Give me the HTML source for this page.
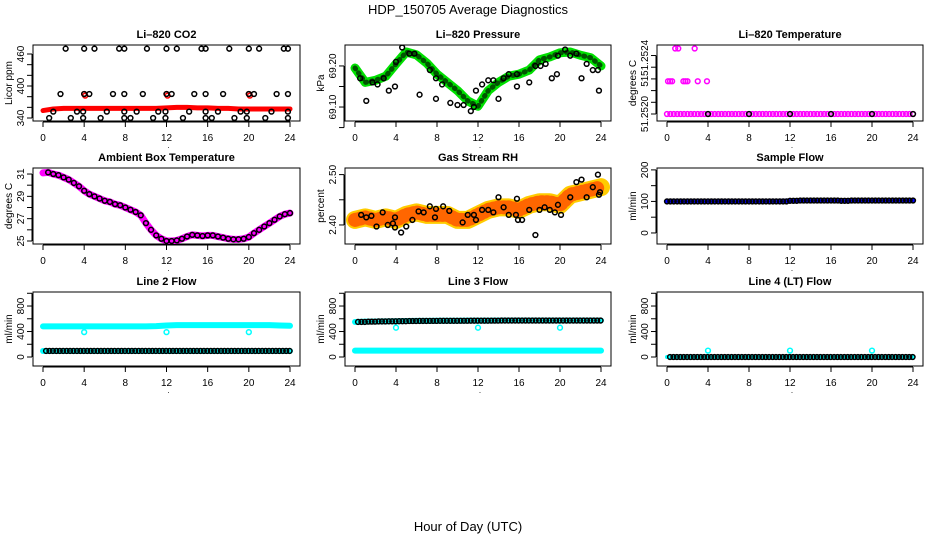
<!DOCTYPE html>
<html><head><meta charset="utf-8"><style>
body{margin:0;background:#fff}
svg{display:block;font-family:"Liberation Sans",sans-serif}
</style></head><body>
<svg id="c" width="936" height="540" viewBox="0 0 936 540" xmlns="http://www.w3.org/2000/svg">
<text x="468" y="14" text-anchor="middle" font-size="13">HDP_150705  Average Diagnostics</text>
<text x="468" y="531" text-anchor="middle" font-size="13">Hour of Day (UTC)</text>
</svg>
<script>
const HOURS=[0,1,2,3,4,5,6,7,8,9,10,11,12,13,14,15,16,17,18,19,20,21,22,23,24];
const XTICKS=[0,4,8,12,16,20,24];
// CO2
const CO2_BAND=[354,357,358,358,358,358,358,358,358,358,358,358,359,360,360,359,359,358,358,357,357,357,357,357,357];
const CO2_CX=[2.2,4,5,7.4,7.9,10.1,12,13,15.4,15.8,18.1,20,21,23.4,23.8, 1.7,4,4.5,6.8,7.9,9.7,12,12.5,14.7,15.8,17.5,20,20.5,22.7,23.8, 1,3.3,3.9,6.2,7.9,9.1,11.2,11.9,14.2,15.8,17,19.2,19.8,22.2,23.8, 0.6,2.7,3.9,5.6,7.9,8.5,10.7,11.9,13.6,15.8,16.4,18.6,19.8,21.6,23.8];
const CO2_CY=[470,470,470,470,470,470,470,470,470,470,470,470,470,470,470, 385,385,385,385,385,385,385,385,385,385,385,385,385,385,385, 352,352,352,352,352,352,352,352,352,352,352,352,352,352,352, 340,340,340,340,340,340,340,340,340,340,340,340,340,340,340];
const CO2_RX=[4,4.1,12,12.1,20,20.1];
const CO2_RY=[385,382,385,382,385,382];
// Pressure
const P_BAND=[69.195,69.160,69.165,69.175,69.205,69.234,69.227,69.207,69.180,69.160,69.140,69.115,69.102,69.140,69.160,69.175,69.180,69.190,69.215,69.222,69.232,69.234,69.226,69.220,69.200];
const P_CX=[0.5,1.1,1.7,2.2,2.8,3.3,3.9,4,4.6,5.3,5.8,6.3,7.3,7.9,7.9,8.5,9.3,10,10.6,11.3,11.6,11.8,12.4,13,13.5,14,14.5,15,15.8,15.8,17,17.6,18.1,18.6,19.2,19.7,19.8,20.5,21,21.6,22.1,22.6,23.2,23.7,23.8];
const P_CY=[69.17,69.115,69.16,69.155,69.17,69.14,69.15,69.21,69.245,69.23,69.23,69.13,69.19,69.17,69.12,69.155,69.11,69.105,69.105,69.09,69.1,69.14,69.155,69.165,69.165,69.12,69.17,69.18,69.18,69.15,69.16,69.2,69.2,69.205,69.17,69.18,69.225,69.24,69.225,69.23,69.17,69.205,69.19,69.19,69.14];
// Li-820 temperature
const LT_LOW=[51.2520,51.2520,51.2520,51.2520,51.2520,51.2520,51.2520,51.2520,51.2520,51.2520,51.2520,51.2520,51.2520,51.2520,51.2520,51.2520,51.2520,51.2520,51.2520,51.2520,51.2520,51.2520,51.2520,51.2520,51.2520];
const LT_OX=[0.1,0.3,0.5,1.6,1.8,2,3,3.9,0.8,1.1,2.7];
const LT_OY=[51.25228,51.25228,51.25228,51.25228,51.25228,51.25228,51.25228,51.25228,51.25256,51.25256,51.25256];
// Ambient box temperature (half-hourly)
const AMB_X=[0,0.5,1,1.5,2,2.5,3,3.5,4,4.5,5,5.5,6,6.5,7,7.5,8,8.5,9,9.5,10,10.5,11,11.5,12,12.5,13,13.5,14,14.5,15,15.5,16,16.5,17,17.5,18,18.5,19,19.5,20,20.5,21,21.5,22,22.5,23,23.5,24];
const AMB=[31.1,31.15,31.0,30.9,30.7,30.5,30.2,29.9,29.5,29.2,29.0,28.8,28.6,28.5,28.3,28.2,28.0,27.8,27.6,27.3,26.6,26.0,25.5,25.2,25.0,25.0,25.05,25.2,25.4,25.55,25.5,25.45,25.5,25.5,25.4,25.3,25.2,25.15,25.15,25.2,25.35,25.7,26.0,26.3,26.6,26.9,27.2,27.4,27.5];
// Gas stream RH
const RH_BAND=[2.41,2.415,2.41,2.415,2.41,2.42,2.425,2.42,2.42,2.42,2.41,2.41,2.42,2.43,2.435,2.435,2.43,2.44,2.445,2.445,2.44,2.46,2.465,2.47,2.475];
const RH_CX=[0.6,1.1,1.6,2.1,2.7,3.2,3.7,3.9,3.9,4.5,5,5.6,6.2,6.7,7.3,7.8,7.9,8.6,9.2,10.5,11,11.6,11.8,12.4,13,13.5,14,14.5,15,15.7,15.8,15.9,16.3,17,17.6,18,18.5,19,19.5,19.8,20.1,21,21.6,22.1,22.6,23.2,23.7,23.8,23.9];
const RH_CY=[2.42,2.415,2.418,2.397,2.425,2.40,2.403,2.415,2.395,2.385,2.397,2.41,2.427,2.425,2.437,2.415,2.432,2.437,2.428,2.405,2.42,2.42,2.41,2.43,2.43,2.425,2.455,2.435,2.42,2.42,2.452,2.41,2.41,2.43,2.38,2.43,2.435,2.43,2.425,2.44,2.42,2.455,2.485,2.49,2.455,2.475,2.50,2.46,2.465];
// Sample flow
const SF_BAND=[100,100,100,100,100,100,100,100,100,100,100,100,102,103,103,103,103,102,103,103,103,103,103,103,103];
// Line flows
const L2_UP=[480,480,480,480,480,480,480,480,480,480,480,485,495,500,500,500,500,500,500,500,500,500,500,495,490];
const L2_LOW=[95,95,95,95,95,95,95,95,95,95,95,95,95,95,95,95,95,95,95,95,95,95,95,95,95];
const L2_OX=[4,12,20]; const L2_OY=[390,390,390];
const L3_UP=[550,555,558,560,562,565,566,567,568,568,569,570,570,571,572,572,572,572,572,572,572,572,572,572,572];
const L3_LOW=[100,100,100,100,100,100,100,100,100,100,100,100,100,100,100,100,100,100,100,100,100,100,100,100,100];
const L3_OX=[4,12,20]; const L3_OY=[460,460,460];
const L4=[0,0,0,0,0,0,0,0,0,0,0,0,0,0,0,0,0,0,0,0,0,0,0,0,0];
const L4_OX=[4,12,20]; const L4_OY=[100,100,100];

const svg=document.getElementById('c');
const NS='http://www.w3.org/2000/svg';
function mk(tag,attrs,parent){const e=document.createElementNS(NS,tag);for(const k in attrs)e.setAttribute(k,attrs[k]);(parent||svg).appendChild(e);return e;}
const COLS=[{l:33,r:300},{l:345,r:611},{l:657,r:923}];
const ROWS=[{t:45,b:121},{t:168,b:244},{t:292,b:366}];

function panel(ci,ri,title,ytitle,ymin,ymax,ticks,labels,name){
  const c=COLS[ci],r=ROWS[ri];
  const g=mk('g',{});
  
  
  const x0=c.l+10,x1=c.r-10;
  const sx=v=>x0+(v/24)*(x1-x0);
  const sy=v=>r.b-(v-ymin)/(ymax-ymin)*(r.b-r.t);
  const t=mk('text',{x:(c.l+c.r)/2,y:r.t-7,'text-anchor':'middle','font-size':11,'font-weight':'bold'},g);t.textContent=title;
  
  
  const box=mk('rect',{x:c.l,y:r.t,width:c.r-c.l,height:r.b-r.t,fill:'none',stroke:'#000','stroke-width':1},g);
  
  
  mk('line',{x1:sx(0),x2:sx(24),y1:r.b+1,y2:r.b+1,stroke:'#000'},g);
  XTICKS.forEach(v=>{mk('line',{x1:sx(v),x2:sx(v),y1:r.b+1,y2:r.b+6,stroke:'#000'},g);
    const tl=mk('text',{x:sx(v),y:r.b+20,'text-anchor':'middle','font-size':10},g);tl.textContent=v;
    
    });
  const d=mk('text',{x:sx(12)+2,y:r.b+27,'text-anchor':'middle','font-size':8},g);d.textContent='.';
  const ya=ticks.map(sy);
  mk('line',{x1:c.l-1,x2:c.l-1,y1:Math.min(...ya),y2:Math.max(...ya),stroke:'#000'},g);
  ticks.forEach(v=>mk('line',{x1:c.l-6,x2:c.l-1,y1:sy(v),y2:sy(v),stroke:'#000'},g));
  labels.forEach(L=>{const yy=sy(L[0]);const tl=mk('text',{x:c.l-9,y:yy,'text-anchor':'middle','font-size':10,transform:`rotate(-90 ${c.l-9} ${yy})`},g);tl.textContent=L[1];
    
    });
  const ym=(r.t+r.b)/2;
  const yt=mk('text',{x:c.l-21,y:ym,'text-anchor':'middle','font-size':10,transform:`rotate(-90 ${c.l-21} ${ym})`},g);yt.textContent=ytitle;
  
  
  const clip='clip'+ci+ri;
  const cp=mk('clipPath',{id:clip},g);mk('rect',{x:c.l,y:r.t,width:c.r-c.l,height:r.b-r.t},cp);
  const pg=mk('g',{'clip-path':`url(#${clip})`},g);
  return {sx,sy,g:pg};
}
function band(P,xs,ys,color,w,name){
  const pts=xs.map((x,i)=>P.sx(x)+','+P.sy(ys[i])).join(' ');
  const pl=mk('polyline',{points:pts,fill:'none',stroke:color,'stroke-width':w,'stroke-linejoin':'round','stroke-linecap':'round'},P.g);
  
  
  return pl;
}
function circles(P,xs,ys,color,name,rad){
  xs.forEach((x,i)=>{const e=mk('circle',{cx:P.sx(x),cy:P.sy(ys[i]),r:rad||2.4,fill:'none',stroke:color,'stroke-width':1.5},P.g);
    
    });
}
function bandCircles(P,xs,ys,color,name){
  const cx=[],cy=[];
  for(let i=0;i<xs.length;i++){for(const o of [0,0.33,0.66]){const x=xs[i]+o;if(x>24)continue;cx.push(x);cy.push(ys[i]);}}
  circles(P,cx,cy,color,name);
}
let P=panel(0,0,'Li\u2013820 CO2','Licor ppm',334.4,476.9,[340,360,380,400,420,440,460],[[340,'340'],[400,'400'],[460,'460']],'panel-co2');
band(P,HOURS,CO2_BAND,'#f00',5,'co2-band');
circles(P,CO2_RX,CO2_RY,'#f00','co2-red-point');
circles(P,CO2_CX,CO2_CY,'#000','co2-avg-point');
P=panel(1,0,'Li\u2013820 Pressure','kPa',69.066,69.251,[69.05,69.10,69.15,69.20],[[69.10,'69.10'],[69.20,'69.20']],'panel-pressure');
band(P,HOURS,P_BAND,'#00e000',9,'pressure-band');
band(P,HOURS,P_BAND,'#005500',5,'pressure-band-core').setAttribute('stroke-dasharray','1 5');
circles(P,P_CX,P_CY,'#000','pressure-point');
P=panel(2,0,'Li\u2013820 Temperature','degrees C',51.25194,51.25259,[51.2520,51.2521,51.2522,51.2523,51.2524,51.2525],[[51.2520,'51.2520'],[51.25228,'51'],[51.25248,'51.2524']],'panel-li-temp');
bandCircles(P,HOURS,LT_LOW,'#f0f','li-temp-point');
circles(P,[4,8,12,16,20,24],[51.2520,51.2520,51.2520,51.2520,51.2520,51.2520],'#000','li-temp-avg-point');
circles(P,LT_OX,LT_OY,'#f0f','li-temp-outlier');
P=panel(0,1,'Ambient Box Temperature','degrees C',24.73,31.54,[25,26,27,28,29,30,31],[[25,'25'],[27,'27'],[29,'29'],[31,'31']],'panel-ambient');
band(P,AMB_X,AMB,'#f0f',7,'ambient-band');
circles(P,AMB_X.slice(1),AMB.slice(1),'#000','ambient-point');
P=panel(1,1,'Gas Stream RH','percent',2.3622,2.5131,[2.40,2.45,2.50],[[2.40,'2.40'],[2.50,'2.50']],'panel-rh');
band(P,HOURS,RH_BAND,'#ffcc00',18,'rh-band');
band(P,HOURS,RH_BAND,'#ff6600',14,'rh-band-dots').setAttribute('stroke-dasharray','1 4');
circles(P,RH_CX,RH_CY,'#000','rh-point');
P=panel(2,1,'Sample Flow','ml/min',-35,206,[0,50,100,150,200],[[0,'0'],[100,'100'],[200,'200']],'panel-sample-flow');
band(P,HOURS,SF_BAND,'#0000ff',5,'sample-flow-band');
bandCircles(P,HOURS,SF_BAND,'#000','sample-flow-point');
const FT=[0,200,400,600,800,1000],FL=[[0,'0'],[400,'400'],[800,'800']];
P=panel(0,2,'Line 2 Flow','ml/min',-141,1020,FT,FL,'panel-line2');
band(P,HOURS,L2_UP,'#00ffff',6,'line2-upper-band');
band(P,HOURS,L2_LOW,'#00ffff',6,'line2-lower-band');
bandCircles(P,HOURS.slice(0,24).map(h=>h+0.3),L2_LOW.slice(0,24),'#000','line2-point');
circles(P,L2_OX,L2_OY,'#00ffff','line2-outlier');
P=panel(1,2,'Line 3 Flow','ml/min',-141,1020,FT,FL,'panel-line3');
band(P,HOURS,L3_LOW,'#00ffff',6,'line3-lower-band');
band(P,HOURS,L3_UP,'#00ffff',6,'line3-upper-band');
bandCircles(P,HOURS.slice(0,24).map(h=>h+0.3),L3_UP.slice(0,24),'#000','line3-point');
circles(P,L3_OX,L3_OY,'#00ffff','line3-outlier');
P=panel(2,2,'Line 4 (LT) Flow','ml/min',-141,1020,FT,FL,'panel-line4');
band(P,HOURS,L4,'#00ffff',4,'line4-band');
bandCircles(P,HOURS.slice(0,24).map(h=>h+0.3),L4.slice(0,24),'#000','line4-point');
circles(P,L4_OX,L4_OY,'#00ffff','line4-outlier');
</script>
</body></html>
